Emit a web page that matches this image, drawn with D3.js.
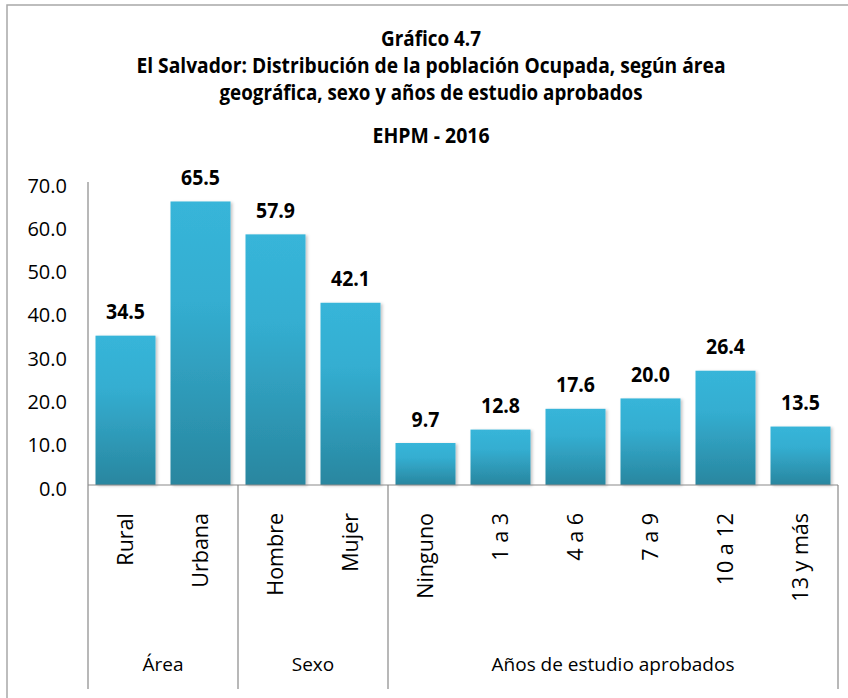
<!DOCTYPE html>
<html>
<head>
<meta charset="utf-8">
<script src="https://cdn.jsdelivr.net/npm/d3@7"></script>
<style>
  html, body { margin: 0; padding: 0; background: #ffffff; }
  svg { display: block; }
  text { font-family: 'Open Sans', 'Noto Sans', sans-serif; fill: #000; }
</style>
</head>
<body>
<svg id="chart" width="848" height="698"></svg>
<script>
// ---- Data ----
const titleLines = [
  "Gráfico 4.7",
  "El Salvador: Distribución de la población Ocupada, según área",
  "geográfica, sexo y años de estudio aprobados",
  "EHPM - 2016"
];
const categories = ["Rural", "Urbana", "Hombre", "Mujer", "Ninguno", "1 a 3", "4 a 6", "7 a 9", "10 a 12", "13 y más"];
const values = [34.5, 65.5, 57.9, 42.1, 9.7, 12.8, 17.6, 20.0, 26.4, 13.5];
const groups = ["Área", "Sexo", "Años de estudio aprobados"];
const groupSizes = [2, 2, 6];
const yTicks = [0, 10, 20, 30, 40, 50, 60, 70];

// ---- Layout ----
const W = 848, H = 698;
const plot = { left: 88, right: 838, top: 182, bottom: 485 };
const axisBottom = 689;
const titleBaselines = [46, 73, 100, 143];
const titleWidths = [100, 589, 423, 117];
const titleCenter = 431;
const lineColor = "#898989";

const svg = d3.select("#chart");
svg.append("rect").attr("width", W).attr("height", H).attr("fill", "#fff");

// outer border (chart area frame)
svg.append("rect")
  .attr("x", 7).attr("y", 5).attr("width", 900).attr("height", 800)
  .attr("fill", "none").attr("stroke", "#a8a8a8").attr("stroke-width", 1.5);

// gradient & shadow
const defs = svg.append("defs");
const grad = defs.append("linearGradient").attr("id", "barGrad")
  .attr("x1", 0).attr("y1", 0).attr("x2", 0).attr("y2", 1);
grad.append("stop").attr("offset", "0%").attr("stop-color", "#37b5d9");
grad.append("stop").attr("offset", "35%").attr("stop-color", "#34aed1");
grad.append("stop").attr("offset", "100%").attr("stop-color", "#29869f");
const filt = defs.append("filter").attr("id", "shadow")
  .attr("x", "-10%").attr("y", "-10%").attr("width", "130%").attr("height", "120%");
filt.append("feDropShadow").attr("dx", 2).attr("dy", 1).attr("stdDeviation", 1.5)
  .attr("flood-color", "#000").attr("flood-opacity", 0.22);

// title
svg.append("g").selectAll("text").data(titleLines).join("text")
  .attr("x", titleCenter)
  .attr("y", (d, i) => titleBaselines[i])
  .attr("text-anchor", "middle")
  .attr("font-size", 21)
  .attr("font-weight", "bold")
  .attr("textLength", (d, i) => titleWidths[i])
  .attr("lengthAdjust", "spacingAndGlyphs")
  .text(d => d);

// scales
const x = d3.scaleBand().domain(categories).range([plot.left, plot.right])
  .paddingInner(0.2).paddingOuter(0.1);
const y = d3.scaleLinear().domain([0, 70]).range([plot.bottom, plot.top]);

// y axis tick labels
const yAxis = d3.axisLeft(y).tickValues(yTicks).tickFormat(d3.format(".1f")).tickSize(0).tickPadding(21);
const yg = svg.append("g").attr("transform", `translate(${plot.left},0)`).call(yAxis);
yg.select(".domain").remove();
yg.selectAll("text")
  .attr("font-size", 20)
  .attr("font-family", "'Open Sans', sans-serif")
  .attr("fill", "#000")
  .attr("dy", "0.5em");

// bars
const data = categories.map((c, i) => ({ c, v: values[i] }));
svg.append("g").selectAll("rect").data(data).join("rect")
  .attr("x", d => x(d.c))
  .attr("y", d => y(d.v))
  .attr("width", x.bandwidth())
  .attr("height", d => y(0) - y(d.v))
  .attr("fill", "url(#barGrad)")
  .attr("filter", "url(#shadow)");

// value labels
svg.append("g").selectAll("text").data(data).join("text")
  .attr("transform", d => `translate(${x(d.c) + x.bandwidth() / 2},${y(d.v) - 16.5}) scale(1,1.12)`)
  .attr("text-anchor", "middle")
  .attr("font-size", 19.5)
  .attr("font-weight", "bold")
  .text(d => d3.format(".1f")(d.v));

// axis lines
const lines = svg.append("g").attr("stroke", lineColor).attr("stroke-width", 1.2);
lines.append("line").attr("x1", plot.left).attr("x2", plot.left).attr("y1", plot.top).attr("y2", axisBottom);
lines.append("line").attr("x1", plot.left).attr("x2", plot.right).attr("y1", y(0)).attr("y2", y(0));

// group boundaries
let acc = 0;
const groupInfo = groups.map((g, i) => {
  const first = categories[acc];
  const last = categories[acc + groupSizes[i] - 1];
  acc += groupSizes[i];
  const step = x.step();
  const x0 = x(first) - step * x.paddingInner() / 2 - (i === 0 ? step * x.paddingOuter() - step * x.paddingInner() / 2 : 0);
  const x1 = x(last) + x.bandwidth() + step * x.paddingInner() / 2 + (i === groups.length - 1 ? step * x.paddingOuter() - step * x.paddingInner() / 2 : 0);
  return { g, x0, x1 };
});
groupInfo.forEach((gi, i) => {
  lines.append("line").attr("x1", gi.x1).attr("x2", gi.x1).attr("y1", y(0)).attr("y2", axisBottom);
});

// category labels (rotated)
svg.append("g").selectAll("text").data(categories).join("text")
  .attr("transform", d => `translate(${x(d) + x.bandwidth() / 2},513) rotate(-90)`)
  .attr("text-anchor", "end")
  .attr("dy", "0.36em")
  .attr("font-size", 21.5)
  .text(d => d);

// group labels
svg.append("g").selectAll("text").data(groupInfo).join("text")
  .attr("x", d => (d.x0 + d.x1) / 2)
  .attr("y", 671)
  .attr("text-anchor", "middle")
  .attr("font-size", 19)
  .text(d => d.g);
</script>
</body>
</html>
